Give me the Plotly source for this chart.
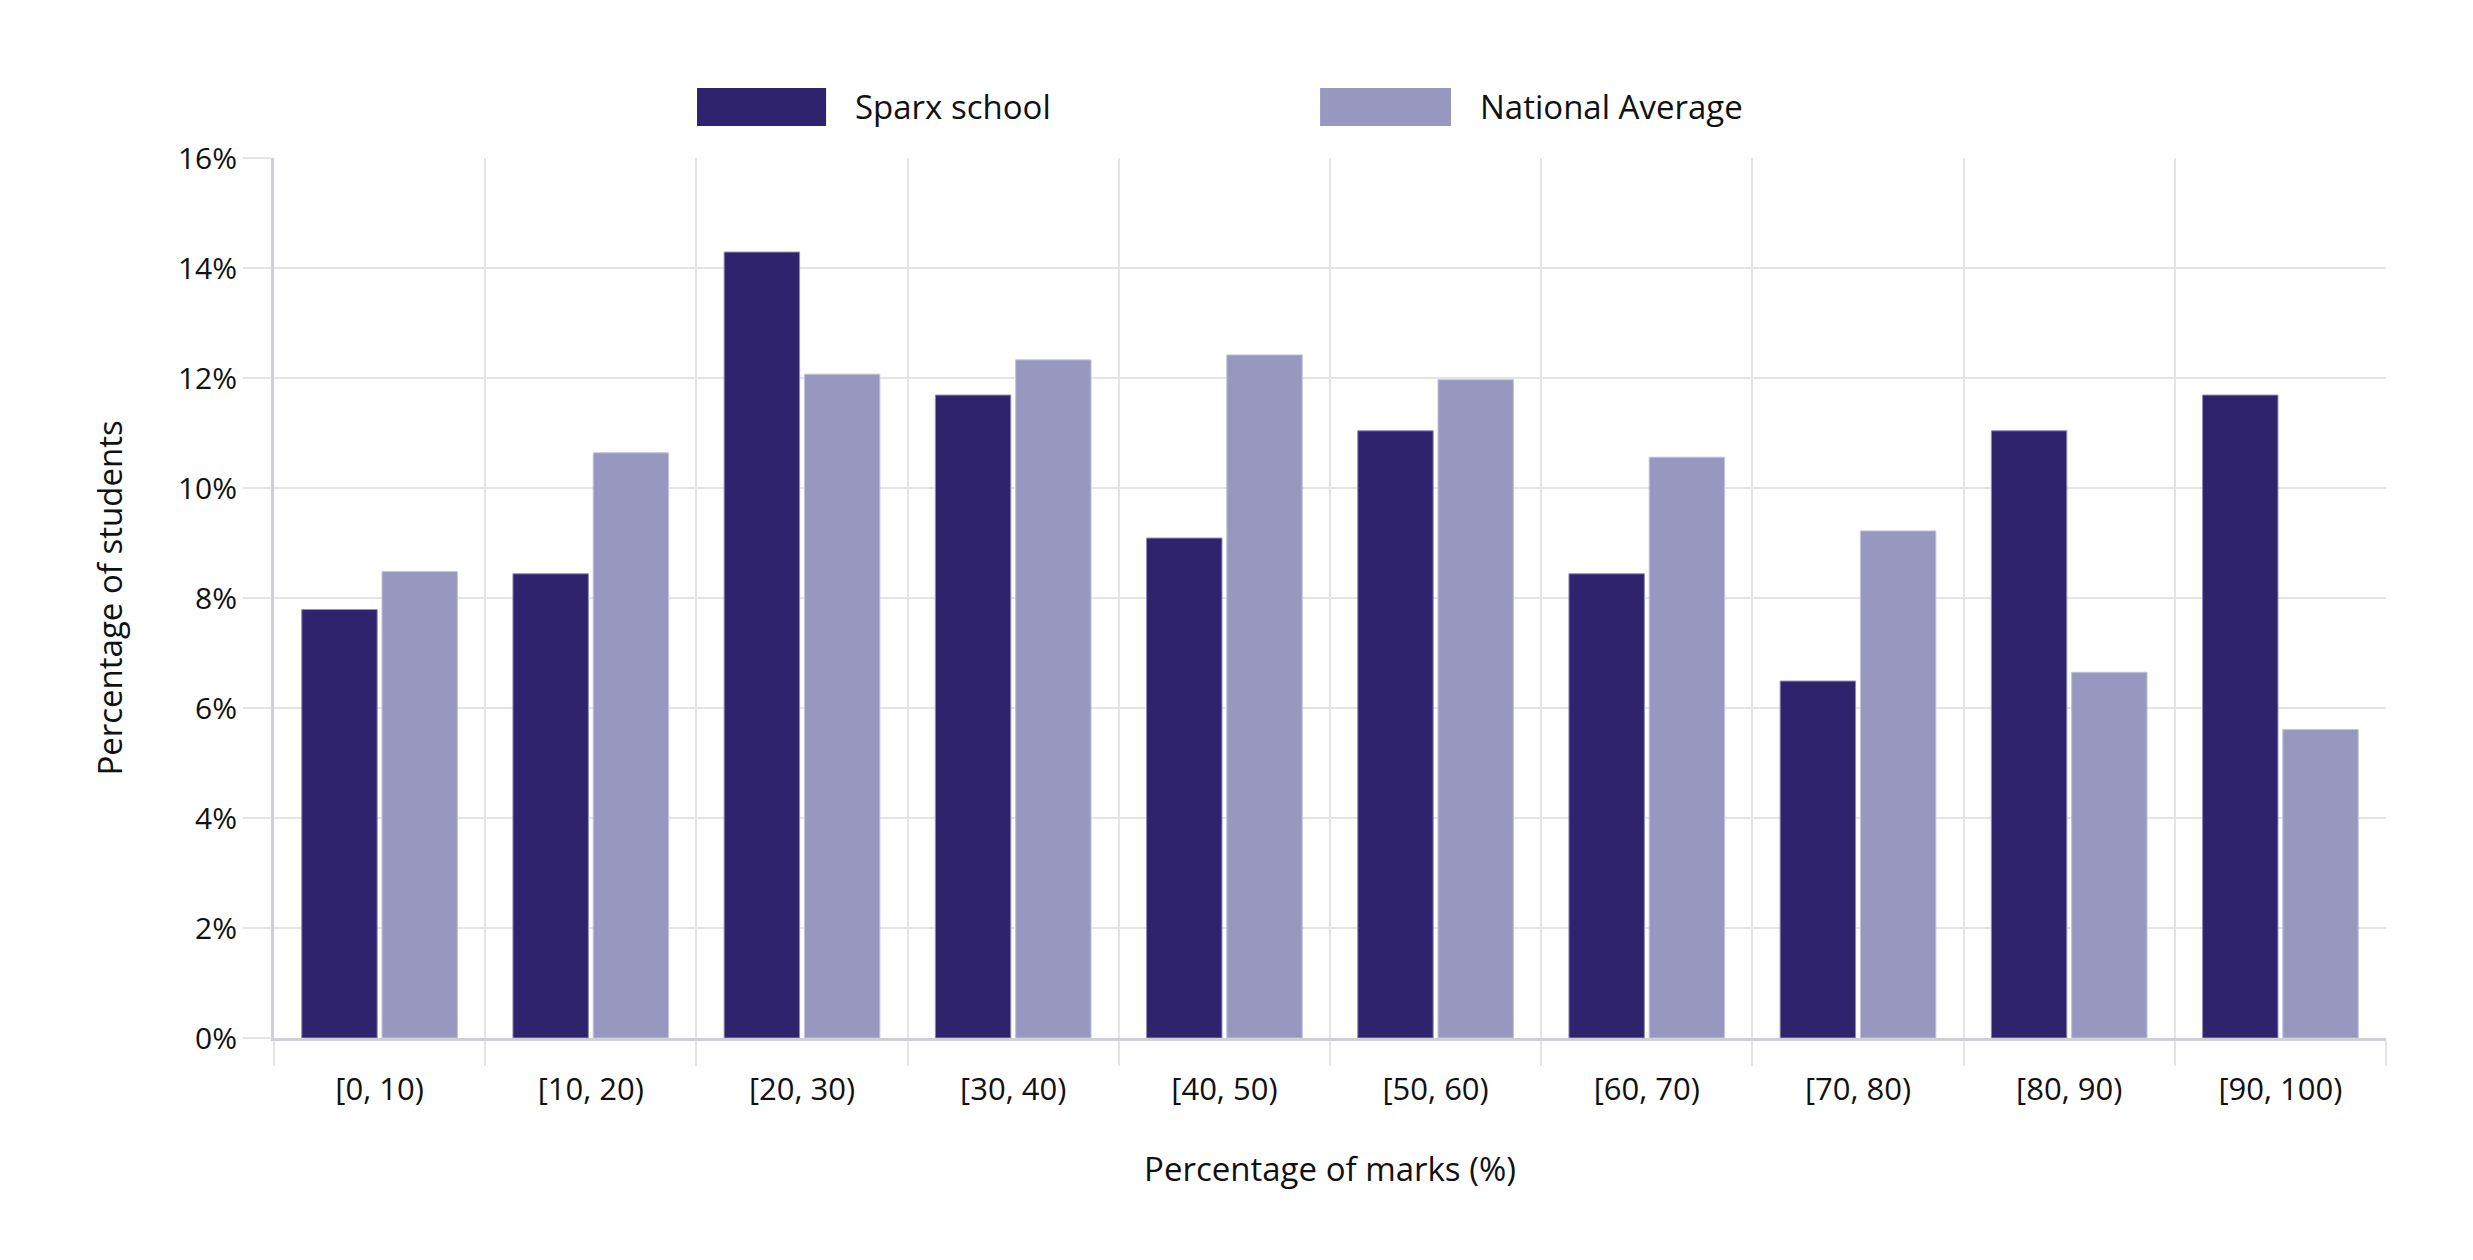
import plotly.graph_objects as go

categories = ["[0, 10)", "[10, 20)", "[20, 30)", "[30, 40)", "[40, 50)",
              "[50, 60)", "[60, 70)", "[70, 80)", "[80, 90)", "[90, 100)"]
sparx_school = [7.79, 8.44, 14.29, 11.69, 9.09, 11.04, 8.44, 6.49, 11.04, 11.69]
national_average = [8.48, 10.64, 12.07, 12.33, 12.42, 11.97, 10.56, 9.22, 6.65, 5.61]
series_names = ["Sparx school", "National Average"]
y_ticks = [0, 2, 4, 6, 8, 10, 12, 14, 16]
y_tick_labels = [f"{v}%" for v in y_ticks]

DARK = "#2e236c"
LIGHT = "#9897bf"
FONT = "'Open Sans', 'Noto Sans', sans-serif"
GRID = "#e4e4e4"
AXIS = "#cfcfd6"
TXT = "#111111"

fig = go.Figure()
fig.add_trace(go.Bar(x=categories, y=sparx_school, name=series_names[0],
                     marker=dict(color=DARK, line=dict(color="#8e8cb8", width=1))))
fig.add_trace(go.Bar(x=categories, y=national_average, name=series_names[1],
                     marker=dict(color=LIGHT, line=dict(color="#c4c3dc", width=1))))

# manual legend with wide swatches
legend_items = [
    (0.2003, 0.2614, 0.274, DARK, series_names[0]),
    (0.4953, 0.5573, 0.570, LIGHT, series_names[1]),
]
shapes = []
annotations = []
for x0, x1, tx, col, name in legend_items:
    shapes.append(dict(type="rect", xref="paper", yref="paper", x0=x0, x1=x1,
                       y0=1.0364, y1=1.0795, fillcolor=col, line=dict(width=0)))
    annotations.append(dict(xref="paper", yref="paper", x=tx, y=1.058, text=name,
                            showarrow=False, xanchor="left", yanchor="middle",
                            font=dict(size=33, color=TXT, family=FONT)))

fig.update_layout(
    width=2473, height=1260,
    margin=dict(l=274, r=87, t=158, b=222),
    paper_bgcolor="white", plot_bgcolor="white",
    barmode="group", bargap=0.24, bargroupgap=0.06,
    showlegend=False,
    font=dict(family=FONT, size=30, color=TXT),
    shapes=shapes, annotations=annotations,
)
fig.update_xaxes(
    type="category", range=[-0.5, 9.5],
    tickson="boundaries", ticks="outside", ticklen=25, tickwidth=2, tickcolor=GRID,
    ticklabelstandoff=22,
    showgrid=True, gridcolor=GRID, gridwidth=2,
    showline=True, linecolor=AXIS, linewidth=3,
    tickfont=dict(size=31, family=FONT, color=TXT),
    title=dict(text="Percentage of marks (%)", standoff=50,
               font=dict(size=33, family=FONT, color=TXT)),
)
fig.update_yaxes(
    range=[0, 16], tickvals=y_ticks, ticktext=y_tick_labels,
    ticks="outside", ticklen=28, tickwidth=2, tickcolor=GRID,
    showgrid=True, gridcolor=GRID, gridwidth=2, zeroline=False,
    showline=True, linecolor=AXIS, linewidth=3,
    tickfont=dict(size=30, family=FONT, color=TXT),
    title=dict(text="Percentage of students", standoff=46,
               font=dict(size=33, family=FONT, color=TXT)),
)

fig.write_html("out.html")
